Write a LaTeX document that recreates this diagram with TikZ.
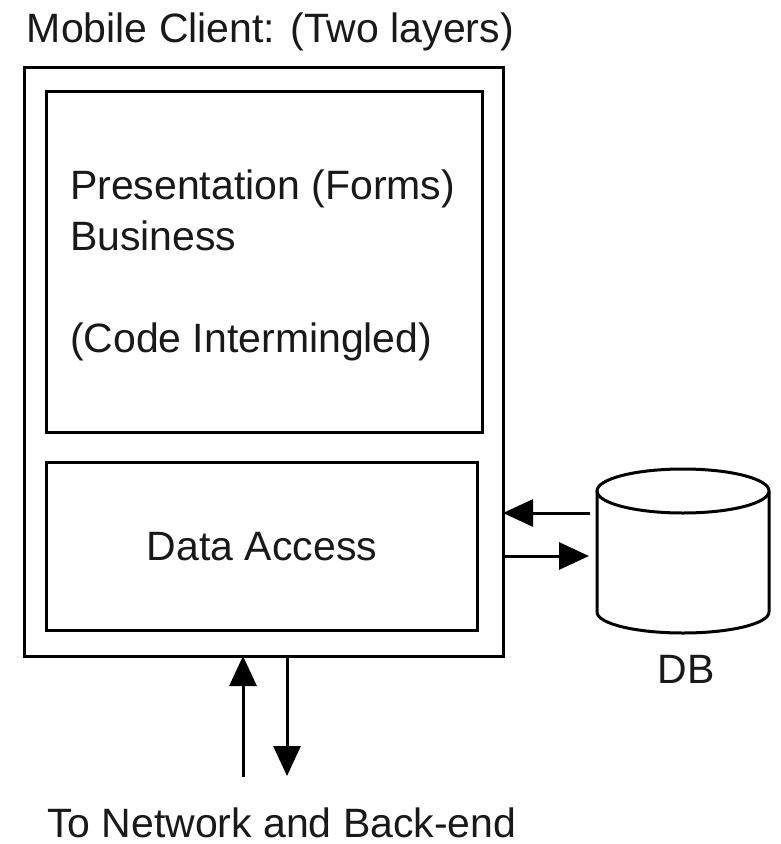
\documentclass[tikz,border=0pt]{standalone}
\usepackage{fontspec}
\setmainfont{Liberation Sans}
\usetikzlibrary{arrows.meta}
\begin{document}
\begin{tikzpicture}[x=1pt,y=1pt,
  boxstyle/.style={draw=black, line width=3pt, inner sep=0pt, outer sep=0pt},
  lbl/.style={inner sep=0pt, outer sep=0pt, font=\fontsize{41}{51}\selectfont, text=black!90},
  arr/.style={line width=3pt, -{Triangle[length=30pt,width=27pt]}},
  cylline/.style={line width=3pt}]
\useasboundingbox (0,0) rectangle (780,-844);
% boxes
\node[boxstyle, minimum width=479pt, minimum height=589pt] (outer) at (263.5,-361.5) {};
\node[boxstyle, minimum width=436pt, minimum height=341pt] (top) at (264,-261.5) {};
\node[boxstyle, minimum width=431pt, minimum height=168pt] (bottom) at (261.5,-546) {};
% texts
\node[lbl, anchor=base west] (title) at (27,-42) {Mobile Client: (Two layers)};
\node[lbl, anchor=base west] (pres) at (70,-199) {Presentation (Forms)};
\node[lbl, anchor=base west] (bus) at (70,-250) {Business};
\node[lbl, anchor=base west] (code) at (70,-352) {(Code Intermingled)};
\node[lbl, anchor=base] (da) at (262,-560) {Data Access};
\node[lbl, anchor=base] (dbl) at (686,-683) {DB};
\node[lbl, anchor=base west, text depth=0pt] (net) at (47,-837) {To Network and Back-end};
% DB cylinder
\node[inner sep=0pt, outer sep=0pt, minimum width=172pt, minimum height=165pt] (db) at (683,-550.5) {};
\draw[cylline] (683,-491) ellipse [x radius=86, y radius=22];
\draw[cylline] (597,-491) -- (597,-612) arc[start angle=180, end angle=360, x radius=86, y radius=21] -- (769,-491);
% connectors
\coordinate (ya) at (0,-513);
\coordinate (yb) at (0,-556);
\draw[arr, shorten <=7pt] (db.west |- ya) -- (outer.east |- ya);
\draw[arr, shorten >=8pt] (outer.east |- yb) -- (db.west |- yb);
\coordinate (up0) at (243,-777);
\coordinate (dn1) at (287,-776);
\draw[arr] (up0) -- (up0 |- outer.south);
\draw[arr] (dn1 |- outer.south) -- (dn1);
\end{tikzpicture}
\end{document}
